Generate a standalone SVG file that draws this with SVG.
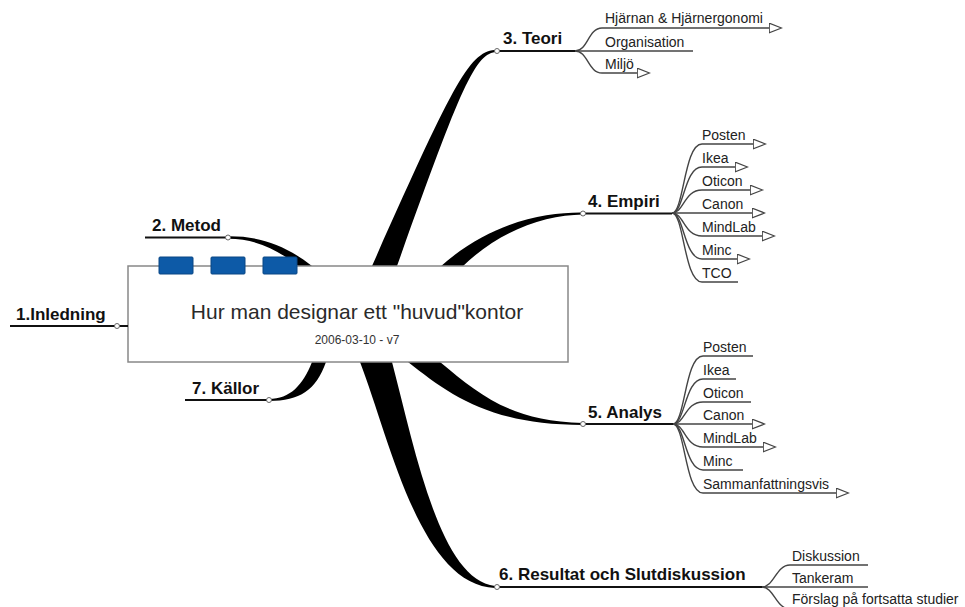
<svg xmlns="http://www.w3.org/2000/svg" width="965" height="607" viewBox="0 0 965 607">
<style>
.main{font-family:"Liberation Sans",Arial,sans-serif;font-weight:bold;font-size:17px;fill:#111}
.sub{font-family:"Liberation Sans",Arial,sans-serif;font-size:14px;fill:#222}
.ul{fill:none;stroke:#111;stroke-width:1.8}
.sl{fill:none;stroke:#444;stroke-width:1.4}
.arr{fill:none;stroke:#444;stroke-width:1.4;marker-end:url(#tri)}
.taper{fill:#000;stroke:none}
.dot{fill:#fff;stroke:#666;stroke-width:1}
.blue{fill:#0d5aa7;stroke:#0a4684;stroke-width:1}
</style>
<defs>
<marker id="tri" markerUnits="userSpaceOnUse" viewBox="0 0 14 11" refX="0.5" refY="5.5" markerWidth="14" markerHeight="11" orient="auto">
<path d="M0.7,0.7 L13,5.5 L0.7,10.3 Z" fill="#fff" stroke="#444" stroke-width="1.3"/>
</marker>
</defs>
<rect width="965" height="607" fill="#fff"/>

<g id="connectors">
<path class="taper" d="M497,50 C470,50 455,80 372,266 L368,280 L400,280 L397,266 C460,90 475,52 497,52 Z"/>
<path class="taper" d="M583,212.5 C545,212 490,222 440,267 L425,280 L455,280 L462,267 C500,230 545,215 583,214.5 Z"/>
<path class="taper" d="M408,362 C450,395 490,425 583,425 L583,423 C510,421 480,395 440,362 L430,350 L398,350 Z"/>
<path class="taper" d="M360,362 C390,440 420,585 495,588 L495,586 C440,580 415,450 392,362 L390,350 L356,350 Z"/>
<path class="taper" d="M312,362 C303,385 290,399 269,399 L269,401 C300,401 316,390 326,362 L328,350 L314,350 Z"/>
<path class="taper" d="M228,236.3 C260,236 285,245 312,266 L316,275 L300,275 L298,266 C280,252 260,239 228,238.7 Z"/>
</g>

<g id="center">
<rect x="128" y="266" width="440" height="96" fill="#fff" stroke="#888" stroke-width="1.5"/>
<rect class="blue" x="159" y="257" width="34" height="17" rx="1"/>
<rect class="blue" x="211" y="257" width="34" height="17" rx="1"/>
<rect class="blue" x="263" y="257" width="34" height="17" rx="1"/>
<text x="357" y="319" text-anchor="middle" font-family="Liberation Sans, Arial, sans-serif" font-size="21" fill="#2a2a2a">Hur man designar ett "huvud"kontor</text>
<text x="357" y="344" text-anchor="middle" font-family="Liberation Sans, Arial, sans-serif" font-size="12" fill="#333">2006-03-10 - v7</text>
</g>

<g id="n1-inledning">
<path class="ul" d="M10,326 H128"/>
<circle class="dot" cx="117" cy="326" r="2.5"/>
<text class="main" x="16" y="320">1.Inledning</text>
</g>

<g id="n2-metod">
<path class="ul" d="M145,237.5 H228"/>
<circle class="dot" cx="228" cy="237.5" r="2.5"/>
<text class="main" x="152" y="231">2. Metod</text>
</g>

<g id="n7-kallor">
<path class="ul" d="M185,400 H269"/>
<circle class="dot" cx="269" cy="400" r="2.5"/>
<text class="main" x="192" y="394">7. Källor</text>
</g>

<g id="n3-teori">
<path class="ul" d="M497,51 H575"/>
<circle class="dot" cx="497" cy="51" r="2.5"/>
<text class="main" x="503" y="44">3. Teori</text>
<g id="n3-1">
<path class="arr" d="M575,51 C588,51 588,28 602,28 H769"/>
<text class="sub" x="605" y="23">Hjärnan &amp; Hjärnergonomi</text>
</g>
<g id="n3-2">
<path class="sl" d="M575,51 H693"/>
<text class="sub" x="605" y="46.5">Organisation</text>
</g>
<g id="n3-3">
<path class="arr" d="M575,51 C588,51 588,73 602,73 H637"/>
<text class="sub" x="605" y="68.5">Miljö</text>
</g>
</g>

<g id="n4-empiri">
<path class="ul" d="M583,213.5 H672"/>
<circle class="dot" cx="583" cy="213.5" r="2.5"/>
<text class="main" x="588" y="207">4. Empiri</text>
<g id="n4-1"><path class="arr" d="M672,213 C684,213 684,144 702,144 H753"/><text class="sub" x="702" y="140">Posten</text></g>
<g id="n4-2"><path class="arr" d="M672,213 C684,213 684,167 702,167 H735"/><text class="sub" x="702" y="163">Ikea</text></g>
<g id="n4-3"><path class="arr" d="M672,213 C684,213 684,190 702,190 H750"/><text class="sub" x="702" y="186">Oticon</text></g>
<g id="n4-4"><path class="arr" d="M672,213 H752"/><text class="sub" x="702" y="209">Canon</text></g>
<g id="n4-5"><path class="arr" d="M672,213 C684,213 684,236 702,236 H762"/><text class="sub" x="702" y="232">MindLab</text></g>
<g id="n4-6"><path class="arr" d="M672,213 C684,213 684,259 702,259 H737"/><text class="sub" x="702" y="255">Minc</text></g>
<g id="n4-7"><path class="sl" d="M672,213 C684,213 684,282 702,282 H738"/><text class="sub" x="702" y="278">TCO</text></g>
</g>

<g id="n5-analys">
<path class="ul" d="M583,424 H673"/>
<circle class="dot" cx="583" cy="424" r="2.5"/>
<text class="main" x="588" y="418">5. Analys</text>
<g id="n5-1"><path class="sl" d="M673,424 C685,424 685,356 703,356 H753"/><text class="sub" x="703" y="352">Posten</text></g>
<g id="n5-2"><path class="sl" d="M673,424 C685,424 685,379 703,379 H736"/><text class="sub" x="703" y="375">Ikea</text></g>
<g id="n5-3"><path class="sl" d="M673,424 C685,424 685,402 703,402 H751"/><text class="sub" x="703" y="398">Oticon</text></g>
<g id="n5-4"><path class="arr" d="M673,424 H752"/><text class="sub" x="703" y="420">Canon</text></g>
<g id="n5-5"><path class="arr" d="M673,424 C685,424 685,447 703,447 H763"/><text class="sub" x="703" y="443">MindLab</text></g>
<g id="n5-6"><path class="sl" d="M673,424 C685,424 685,470 703,470 H743"/><text class="sub" x="703" y="466">Minc</text></g>
<g id="n5-7"><path class="arr" d="M673,424 C685,424 685,493 703,493 H836"/><text class="sub" x="703" y="489">Sammanfattningsvis</text></g>
</g>

<g id="n6-resultat">
<path class="ul" d="M497,587 H762"/>
<circle class="dot" cx="497" cy="587" r="2.5"/>
<text class="main" x="499" y="580">6. Resultat och Slutdiskussion</text>
<g id="n6-1"><path class="sl" d="M762,587 C774,587 776,565 790,565 H868"/><text class="sub" x="792" y="561">Diskussion</text></g>
<g id="n6-2"><path class="sl" d="M762,587 H868"/><text class="sub" x="792" y="583">Tankeram</text></g>
<g id="n6-3"><path class="sl" d="M762,587 C774,587 776,609 790,609 H965"/><text class="sub" x="792" y="603.5">Förslag på fortsatta studier</text></g>
</g>
</svg>
